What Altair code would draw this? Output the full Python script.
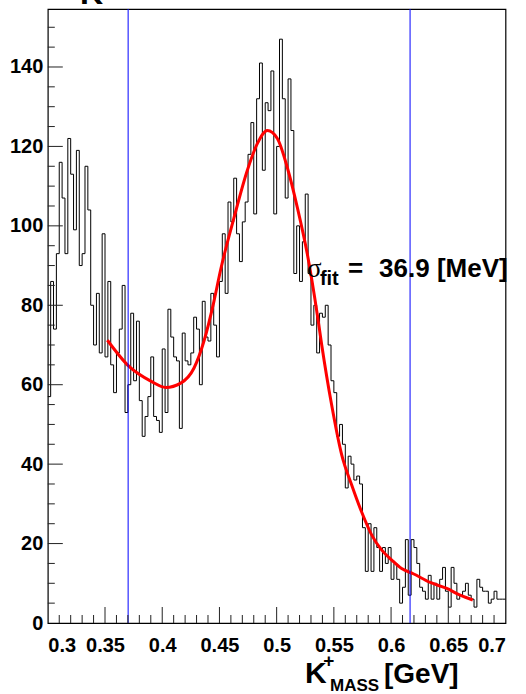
import altair as alt
import pandas as pd

# ---- data ----
x_start = 0.3
bin_width = 0.0025
counts = [
    57, 86, 74, 93, 116, 107, 93, 122, 113, 99, 119, 90, 93, 115, 104, 80, 70, 83, 68, 98,
    67, 86, 65, 58, 68, 74, 85, 53, 60, 78, 61, 76, 56,
    47, 52, 57, 67, 52, 51, 48, 69, 53, 79, 72, 67, 66, 49, 73, 66, 65, 68, 77, 74,
    60, 81, 72, 71, 83, 75, 67, 86, 98, 83, 106, 101,
    112, 98, 91, 101, 106, 118, 126, 103, 132, 141, 114, 131, 129, 139, 103, 120, 147, 132,
    107, 137, 124, 88, 100, 86, 96, 108, 88, 75, 80, 68, 78,
    77, 80, 70, 61, 58, 47, 50, 45, 34, 42, 40, 36, 37, 35, 24, 13, 25, 13, 24, 19,
    13, 19, 15, 19, 11, 15, 11, 5, 9, 21, 7, 21, 19, 15,
    9, 8, 6, 12, 6, 10, 6, 11, 14, 8, 4, 14, 10, 6, 7, 8, 10, 7, 6, 4,
    11, 9, 8, 8, 5, 6, 8, 6, 6, 6,
]

fit_x = [0.3521, 0.3710, 0.3900, 0.4031, 0.4162, 0.4278, 0.4365, 0.4452, 0.4511, 0.4627,
         0.4744, 0.4831, 0.4919, 0.5006, 0.5093, 0.5181, 0.5268, 0.5355, 0.5393, 0.5480,
         0.5568, 0.5655, 0.5742, 0.5830, 0.5917, 0.6004, 0.6092, 0.6194, 0.6342, 0.6487,
         0.6604, 0.6714]
fit_y = [71.2, 64.6, 60.9, 59.3, 60.4, 64.2, 71.0, 81.0, 89.0, 102.0,
         114.0, 120.7, 124.0, 122.0, 114.7, 104.6, 92.9, 77.7, 70.2, 55.0,
         42.4, 34.8, 28.0, 22.2, 18.4, 15.9, 13.7, 12.4, 10.2, 8.7,
         7.0, 5.8]

cut_lines = [0.3702, 0.6166]

x_major = [0.3, 0.35, 0.4, 0.45, 0.5, 0.55, 0.6, 0.65, 0.7]
x_minor = [0.31, 0.32, 0.33, 0.34, 0.36, 0.37, 0.38, 0.39, 0.41, 0.42, 0.43, 0.44,
           0.46, 0.47, 0.48, 0.49, 0.51, 0.52, 0.53, 0.54, 0.56, 0.57, 0.58, 0.59,
           0.61, 0.62, 0.63, 0.64, 0.66, 0.67, 0.68, 0.69]
y_major = [0, 20, 40, 60, 80, 100, 120, 140]
y_minor = [5, 10, 15, 25, 30, 35, 45, 50, 55, 65, 70, 75, 85, 90, 95, 105, 110, 115,
           125, 130, 135, 145, 150]

sigma_text = ["σ", "fit", "=", "36.9 [MeV]"]
sigma_x = [0.5266, 0.5378, 0.5624, 0.5895]
sigma_y = [87.2, 85.1, 87.2, 87.2]

# ---- frames ----
edges = [x_start + i * bin_width for i in range(len(counts) + 1)]
hist_df = pd.DataFrame({"x": edges, "n": counts + [counts[-1]]})
fit_df = pd.DataFrame({"x": fit_x, "y": fit_y})

W, H = 457.7, 614
FONT = "Liberation Sans"

xs = alt.Scale(domain=[0.3, 0.7], nice=False, zero=False)
ys = alt.Scale(domain=[0, 154.6], nice=False)

x_axis = alt.Axis(
    values=x_major, format=".2~f", title=None, grid=False, domain=False,
    ticks=False, labelPadding=12, labelFont=FONT, labelFontWeight="bold",
    labelFontSize=20, labelColor="black")
y_axis = alt.Axis(
    values=y_major, title=None, grid=False, domain=False, ticks=False,
    labelPadding=5, labelFont=FONT, labelFontWeight="bold",
    labelFontSize=20, labelColor="black")


def X(field):
    return alt.X(field, scale=xs, axis=x_axis)


def Y(field):
    return alt.Y(field, scale=ys, axis=y_axis)


hist = alt.Chart(hist_df).mark_line(
    interpolate="step-after", color="black", strokeWidth=1
).encode(x=X("x:Q"), y=Y("n:Q"))

fit = alt.Chart(fit_df).mark_line(
    color="#ff0000", strokeWidth=3, interpolate="monotone"
).encode(x=X("x:Q"), y=Y("y:Q"))

cuts = alt.Chart(pd.DataFrame({"x": cut_lines})).mark_rule(
    color="#0000ff", strokeWidth=1
).encode(x=X("x:Q"))

xmaj = alt.Chart(pd.DataFrame({"v": x_major[1:-1]})).mark_rule(color="#222", strokeWidth=1).encode(
    x=X("v:Q"), y=alt.value(H), y2=alt.value(H - 16))
xmin = alt.Chart(pd.DataFrame({"v": x_minor})).mark_rule(color="#222", strokeWidth=1).encode(
    x=X("v:Q"), y=alt.value(H), y2=alt.value(H - 8))
ymaj = alt.Chart(pd.DataFrame({"v": y_major[1:]})).mark_rule(color="#222", strokeWidth=1).encode(
    y=Y("v:Q"), x=alt.value(0), x2=alt.value(15))
ymin = alt.Chart(pd.DataFrame({"v": y_minor})).mark_rule(color="#222", strokeWidth=1).encode(
    y=Y("v:Q"), x=alt.value(0), x2=alt.value(7))

ann_df = pd.DataFrame({"t": sigma_text, "x": sigma_x, "y": sigma_y})
sig = alt.Chart(ann_df.iloc[[0]]).mark_text(
    font="Liberation Serif", fontSize=27, align="left", baseline="alphabetic", color="black"
).encode(x=X("x:Q"), y=Y("y:Q"), text="t:N")
sub = alt.Chart(ann_df.iloc[[1]]).mark_text(
    font=FONT, fontSize=20, fontWeight="bold", align="left", baseline="alphabetic", color="black"
).encode(x=X("x:Q"), y=Y("y:Q"), text="t:N")
val = alt.Chart(ann_df.iloc[[2, 3]]).mark_text(
    font=FONT, fontSize=26, fontWeight="bold", align="left", baseline="alphabetic", color="black"
).encode(x=X("x:Q"), y=Y("y:Q"), text="t:N")


def ptext(txt, x, y, size):
    return alt.Chart(pd.DataFrame({"t": [txt]})).mark_text(
        font=FONT, fontSize=size, fontWeight="bold", align="left",
        baseline="alphabetic", color="black"
    ).encode(x=alt.value(x), y=alt.value(y), text="t:N")


t_k = ptext("K", 257.2, 674, 30)
t_plus = ptext("+", 275.5, 658, 19)
t_mass = ptext("MASS", 282.2, 682, 17)
t_gev = ptext("[GeV]", 336.2, 674, 28)
t_top = ptext("K", 32.2, -5.5, 32)

chart = alt.layer(
    hist, fit, cuts, xmaj, xmin, ymaj, ymin, sig, sub, val, t_k, t_plus, t_mass, t_gev, t_top
).properties(
    width=W, height=H,
    autosize=alt.AutoSizeParams(type="none"),
    padding={"left": 47.8, "top": 9, "right": 20.5, "bottom": 71},
    background="white",
).configure_view(stroke="black", strokeWidth=1.2)

chart.save("out.html", embed_options={"renderer": "svg", "actions": False})
